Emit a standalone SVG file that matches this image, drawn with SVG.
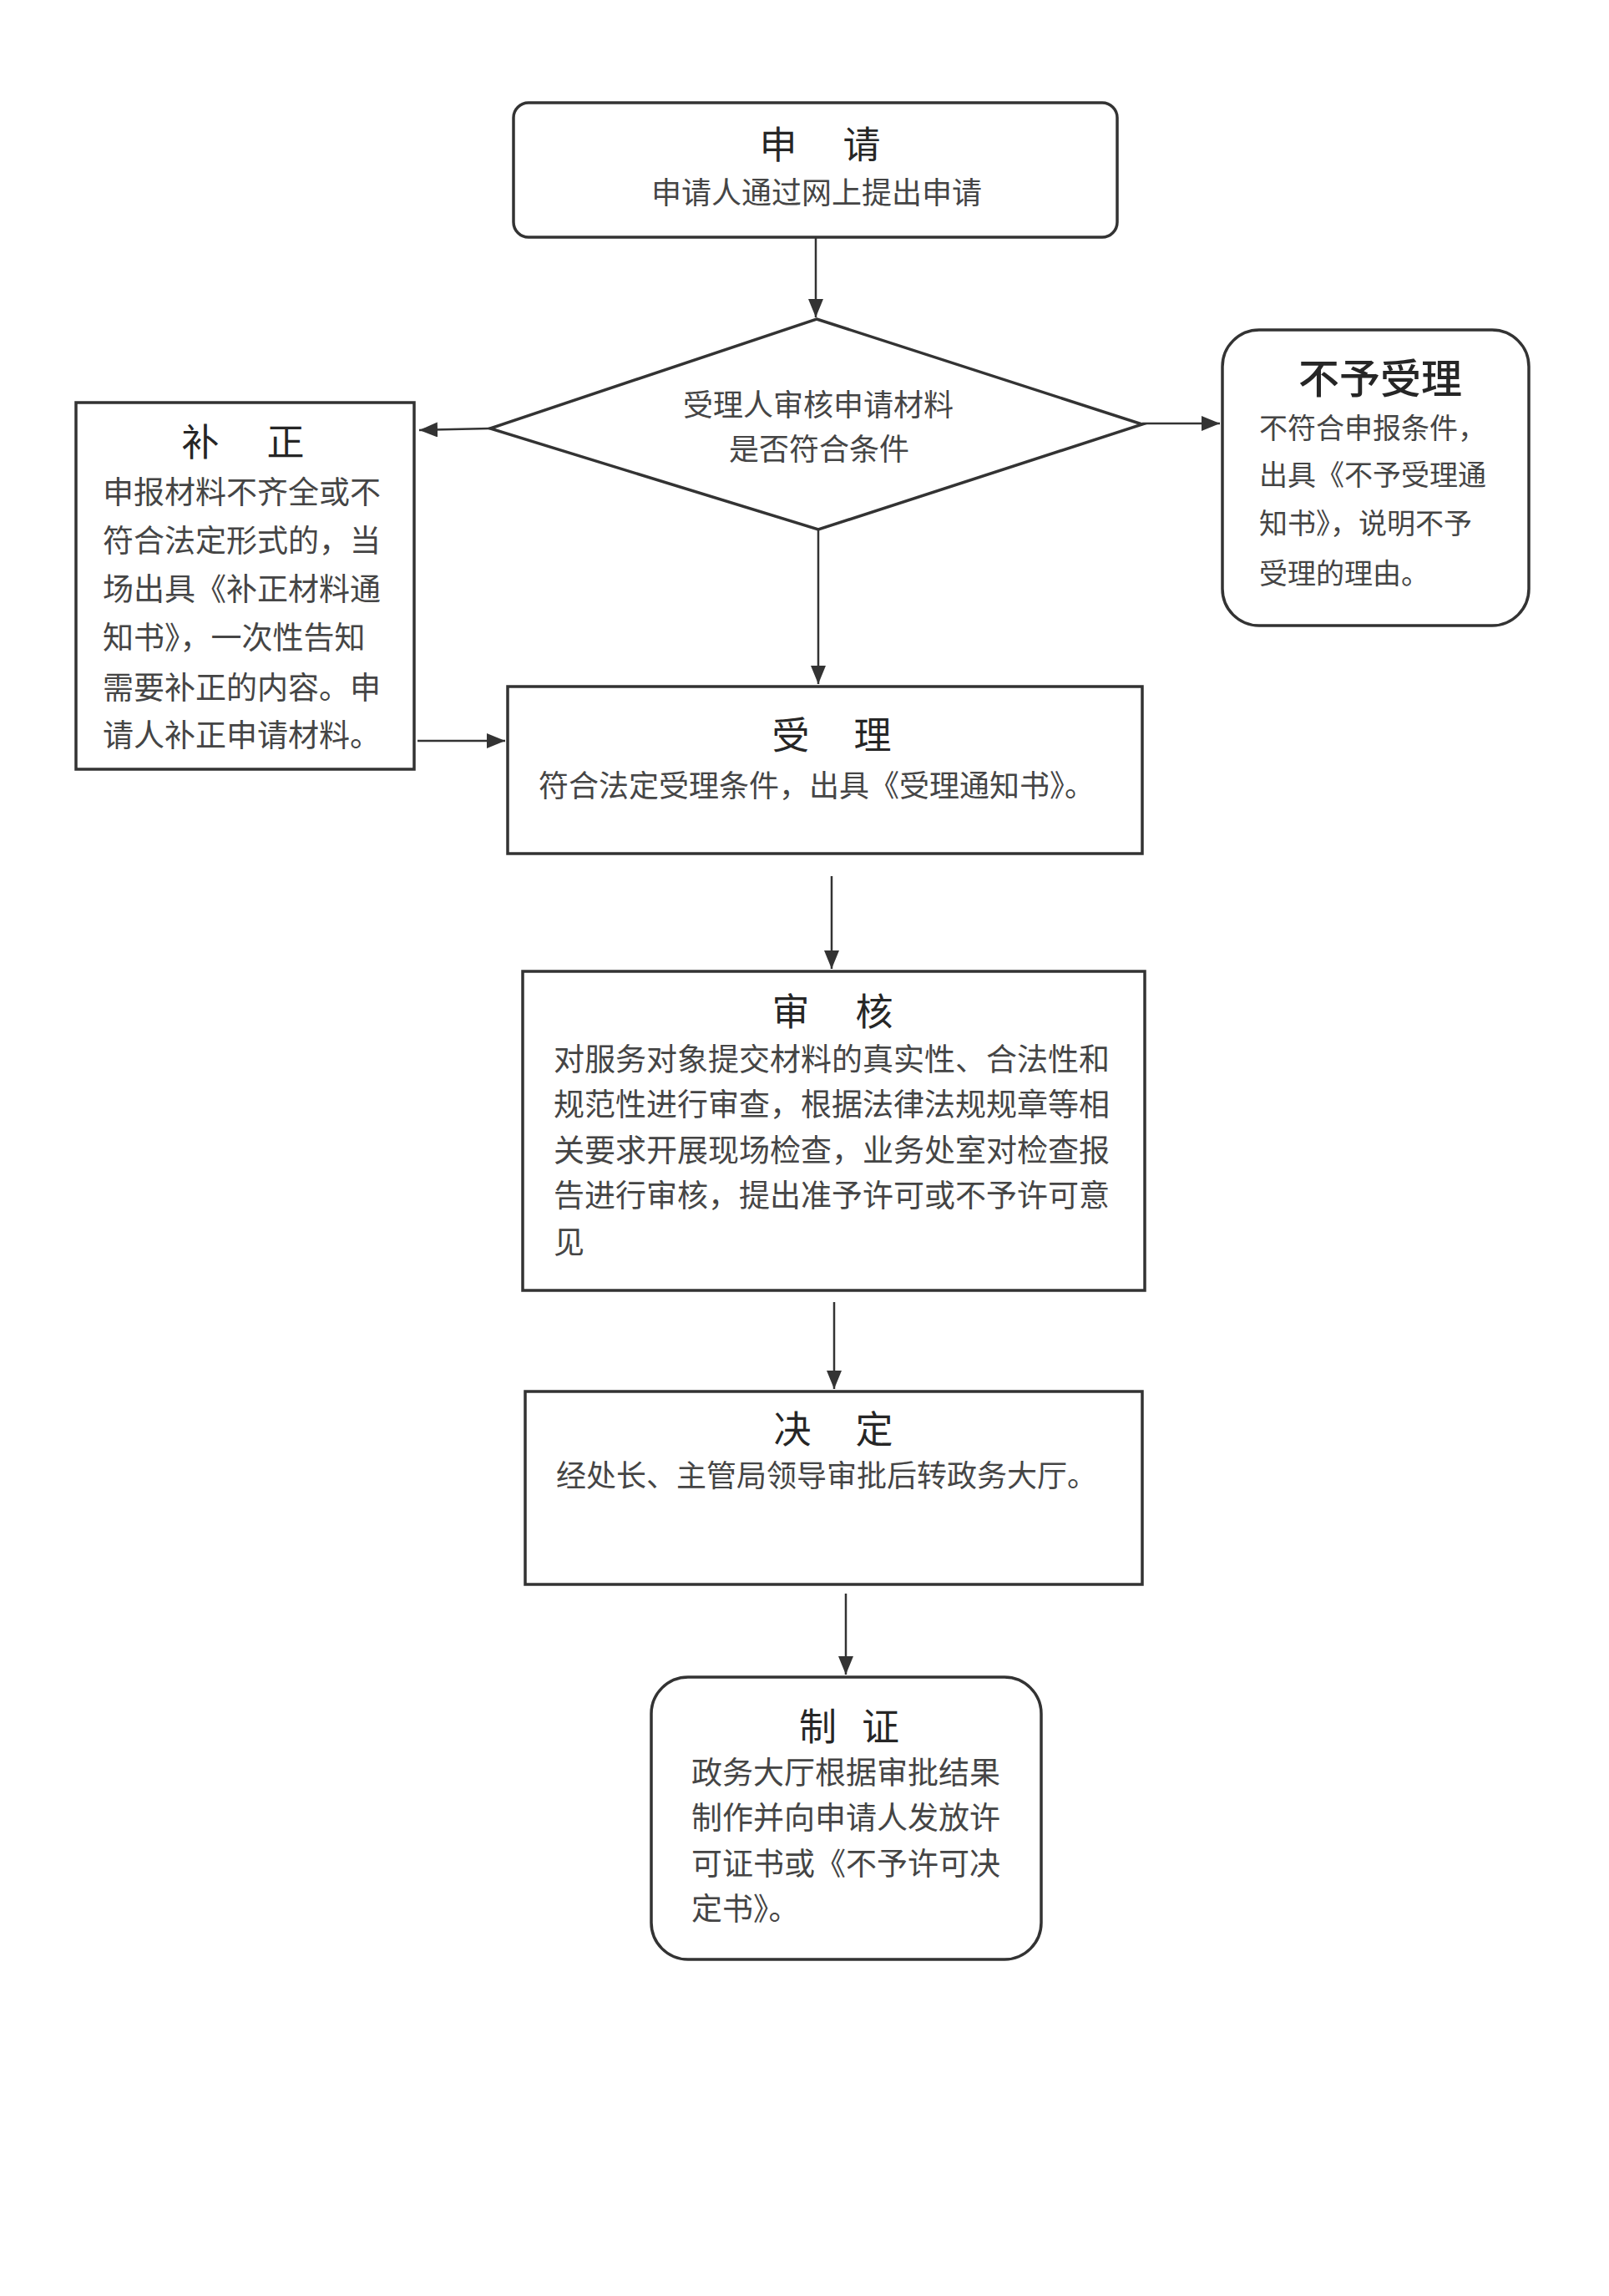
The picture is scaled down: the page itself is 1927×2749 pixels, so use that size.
<svg xmlns="http://www.w3.org/2000/svg" width="1927" height="2749" viewBox="0 0 1927 2749">
<style>
.box{fill:none;stroke:#333;stroke-width:3.5}
.con{fill:none;stroke:#333;stroke-width:2.5}
text{font-family:"Noto Sans CJK SC","Noto Sans CJK JP",sans-serif;dominant-baseline:central}
.t{font-size:45px;fill:#262626;text-anchor:middle}
.b{font-size:36px;fill:#454545}
.c{text-anchor:middle}
</style>
<defs>
<marker id="ah" viewBox="0 0 22 18" refX="22" refY="9" markerWidth="22" markerHeight="18" markerUnits="userSpaceOnUse" orient="auto">
<path d="M0,0 L22,9 L0,18 z" fill="#333"/>
</marker>
</defs>
<rect width="1927" height="2749" fill="#fff"/>

<g id="connectors">
<path class="con" d="M977,284 V380" marker-end="url(#ah)"/>
<path class="con" d="M587,513 L502,515" marker-end="url(#ah)"/>
<path class="con" d="M1368,507 H1461" marker-end="url(#ah)"/>
<path class="con" d="M980,634 V819" marker-end="url(#ah)"/>
<path class="con" d="M500,887 H605" marker-end="url(#ah)"/>
<path class="con" d="M996,1049 V1160" marker-end="url(#ah)"/>
<path class="con" d="M999,1559 V1663" marker-end="url(#ah)"/>
<path class="con" d="M1013,1908 V2005" marker-end="url(#ah)"/>
</g>

<g id="shenqing">
<rect class="box" x="615" y="123" width="723" height="161" rx="18"/>
<text class="t" x="982" y="170" word-spacing="45">申 请</text>
<text class="b c" x="978" y="228">申请人通过网上提出申请</text>
</g>

<g id="shenhe-decision">
<polygon class="box" points="978,382 1368,508 980,634 587,513"/>
<text class="b c" x="980" y="482">受理人审核申请材料</text>
<text class="b c" x="981" y="535">是否符合条件</text>
</g>

<g id="buzheng">
<rect class="box" x="91" y="482" width="405" height="439"/>
<text class="t" x="291" y="526" word-spacing="47">补 正</text>
<g class="b" style="font-size:37px">
<text x="123" y="587">申报材料不齐全或不</text>
<text x="123" y="645">符合法定形式的，当</text>
<text x="123" y="703">场出具《补正材料通</text>
<text x="123" y="761">知书》，一次性告知</text>
<text x="123" y="821">需要补正的内容。申</text>
<text x="123" y="878">请人补正申请材料。</text>
</g>
</g>

<g id="buyushouli">
<rect class="box" x="1464" y="395" width="367" height="354" rx="44"/>
<text class="t" x="1653" y="449" style="font-size:49px;font-weight:500">不予受理</text>
<g class="b" style="font-size:34px">
<text x="1508" y="510">不符合申报条件，</text>
<text x="1508" y="566">出具《不予受理通</text>
<text x="1508" y="624">知书》，说明不予</text>
<text x="1508" y="684">受理的理由。</text>
</g>
</g>

<g id="shouli">
<rect class="box" x="608" y="822" width="760" height="200"/>
<text class="t" x="996" y="877" word-spacing="43">受 理</text>
<text class="b" x="645" y="938">符合法定受理条件，出具《受理通知书》。</text>
</g>

<g id="shenhe">
<rect class="box" x="626" y="1163" width="745" height="382"/>
<text class="t" x="997" y="1208" word-spacing="45">审 核</text>
<g class="b" style="font-size:37px">
<text x="663" y="1266">对服务对象提交材料的真实性、合法性和</text>
<text x="663" y="1320">规范性进行审查，根据法律法规规章等相</text>
<text x="663" y="1375">关要求开展现场检查，业务处室对检查报</text>
<text x="663" y="1429">告进行审核，提出准予许可或不予许可意</text>
<text x="663" y="1485">见</text>
</g>
</g>

<g id="jueding">
<rect class="box" x="629" y="1666" width="739" height="231"/>
<text class="t" x="998" y="1708" word-spacing="43">决 定</text>
<text class="b" x="666" y="1764">经处长、主管局领导审批后转政务大厅。</text>
</g>

<g id="zhizheng">
<rect class="box" x="780" y="2008" width="467" height="338" rx="44"/>
<text class="t" x="1017" y="2064" word-spacing="20">制 证</text>
<g class="b" style="font-size:37px">
<text x="828" y="2120">政务大厅根据审批结果</text>
<text x="828" y="2174">制作并向申请人发放许</text>
<text x="828" y="2229">可证书或《不予许可决</text>
<text x="828" y="2283">定书》。</text>
</g>
</g>
</svg>
